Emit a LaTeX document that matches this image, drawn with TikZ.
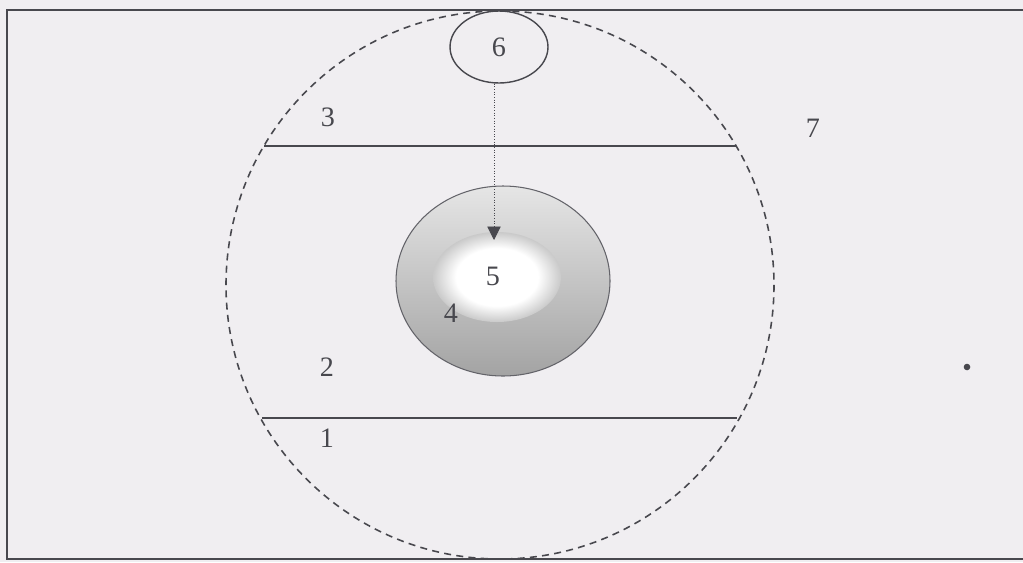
\documentclass[tikz,border=0pt]{standalone}
\usepackage{fontspec}
\setmainfont{Liberation Serif}
\usetikzlibrary{shapes.geometric,arrows.meta}
\definecolor{paper}{RGB}{240,238,241}
\definecolor{ink}{RGB}{72,72,78}
\pgfdeclareradialshading{holeshade}{\pgfpoint{0bp}{0bp}}{color(0bp)=(white); color(16bp)=(white); color(25bp)=(black!21); color(50bp)=(black!21)}
\begin{document}
\begin{tikzpicture}[x=0.02cm,y=-0.02cm,
  lbl/.style={font=\fontsize{16}{19}\selectfont, text=ink, inner sep=0pt},
  frameline/.style={draw=ink, line width=1.1pt},
  chord/.style={draw=ink, line width=0.9pt},
  bigdash/.style={draw=ink, line width=0.9pt, dash pattern=on 4pt off 3pt},
  pointer/.style={draw=ink, line width=0.5pt, densely dotted, -{Triangle[length=0.27cm,width=0.27cm]}}]
\fill[paper] (0,0) rectangle (1023,562);
\useasboundingbox (0,0) rectangle (1023,562);
% frame
\draw[frameline] (1023,10) -- (7,10) -- (7,559) -- (1023,559);
% large dashed circle
\draw[bigdash] (500,285) ellipse (274 and 274);
% chords
\draw[chord] (264,146) -- (736,146);
\draw[chord] (262,418) -- (737,418);
% donut 4/5
\shade[top color=black!10, bottom color=black!36] (503,281) ellipse (107 and 95);
\shade[shading=holeshade] (497,277) ellipse (64 and 45);
\draw[ink!85, line width=0.6pt] (503,281) ellipse (107 and 95);
% ellipse 6
\node[ellipse, draw=ink, line width=0.8pt, minimum width=1.96cm, minimum height=1.44cm, lbl] (six) at (499,47) {6};
% dotted arrow
\coordinate (tip) at (494,240);
\draw[pointer] (six.south -| tip) -- (tip);
% labels
\node[lbl] (one) at (327,438) {1};
\node[lbl] (two) at (327,367) {2};
\node[lbl] (three) at (328,117) {3};
\node[lbl] (four) at (451,313) {4};
\node[lbl] (five) at (493,276) {5};
\node[lbl] (seven) at (813,128) {7};
% dot
\fill[ink] (967,367) circle (3.3);
\end{tikzpicture}
\end{document}
